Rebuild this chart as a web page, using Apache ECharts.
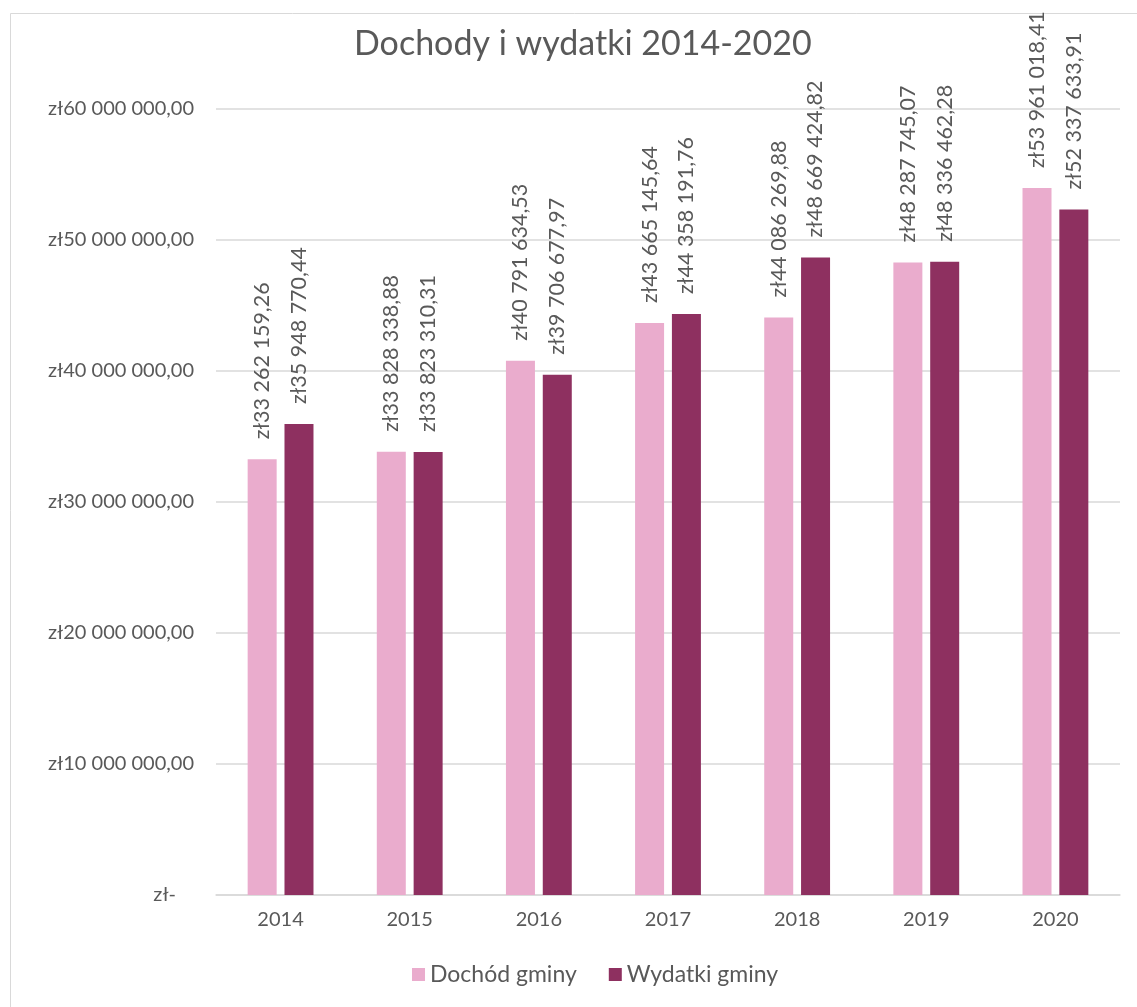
<!DOCTYPE html>
<html>
<head>
<meta charset="utf-8">
<script src="https://cdn.jsdelivr.net/npm/echarts@6/dist/echarts.min.js"></script>
<style>
  html, body { margin: 0; padding: 0; background: #fff; }
  #chart { width: 1137px; height: 1007px; }
</style>
</head>
<body>
<div id="chart"></div>
<script>
// lata i wartości
const years = ['2014', '2015', '2016', '2017', '2018', '2019', '2020'];
const dochody = [33262159.26, 33828338.88, 40791634.53, 43665145.64, 44086269.88, 48287745.07, 53961018.41];
const wydatki = [35948770.44, 33823310.31, 39706677.97, 44358191.76, 48669424.82, 48336462.28, 52337633.91];
const seriesNames = ['Dochód gminy', 'Wydatki gminy'];

const txtColor = '#595959';
const font = 'Lato, "Open Sans", sans-serif';

// format zł 12 345 678,90
function zl(v, dec) {
  if (v === 0) return 'zł-';
  let parts = v.toFixed(dec).split('.');
  let intPart = parts[0].replace(/\B(?=(\d{3})+(?!\d))/g, ' ');
  return 'zł' + intPart + ',' + parts[1];
}

const chart = echarts.init(document.getElementById('chart'));

const labelCfg = {
  show: true,
  position: 'top',
  rotate: 90,
  align: 'left',
  verticalAlign: 'middle',
  distance: 20,
  color: txtColor,
  fontFamily: font,
  fontSize: 21.5,
  formatter: p => zl(p.value, 2)
};

const option = {
  animation: false,
  backgroundColor: '#fff',
  title: {
    text: 'Dochody i wydatki 2014-2020',
    left: 349,
    top: 22,
    textStyle: { color: txtColor, fontFamily: font, fontSize: 34, fontWeight: 'normal' }
  },
  legend: {
    bottom: 16,
    left: 407,
    itemWidth: 13,
    itemHeight: 13,
    itemGap: 32,
    icon: 'rect',
    textStyle: { color: txtColor, fontFamily: font, fontSize: 23 },
    data: seriesNames
  },
  grid: { left: 216, right: 17, top: 109, bottom: 112 },
  xAxis: {
    type: 'category',
    data: years,
    axisLine: { lineStyle: { color: '#d9d9d9', width: 1.5 } },
    axisTick: { show: false },
    axisLabel: { color: txtColor, fontFamily: font, fontSize: 20, margin: 15 }
  },
  yAxis: {
    type: 'value',
    min: 0,
    max: 60000000,
    interval: 10000000,
    axisLine: { show: false },
    axisTick: { show: false },
    splitLine: { lineStyle: { color: '#d9d9d9', width: 1.5 } },
    axisLabel: {
      color: txtColor, fontFamily: font, fontSize: 20, margin: 22,
      formatter: v => v === 0 ? '{z|zł-}' : zl(v, 2),
      rich: {
        z: { color: txtColor, fontFamily: font, fontSize: 20, padding: [0, 18, 0, 0] }
      }
    }
  },
  series: [
    {
      name: seriesNames[0],
      type: 'bar',
      data: dochody,
      barWidth: 29,
      barGap: '27%',
      itemStyle: { color: '#eaaccd' },
      label: labelCfg
    },
    {
      name: seriesNames[1],
      type: 'bar',
      data: wydatki,
      barWidth: 29,
      barGap: '27%',
      itemStyle: { color: '#8e3060' },
      label: labelCfg
    }
  ],
  graphic: [{
    type: 'rect',
    shape: { x: 10.5, y: 13.5, width: 1200, height: 1100 },
    style: { fill: 'none', stroke: '#d9d9d9', lineWidth: 1 },
    silent: true
  }]
};

chart.setOption(option);
</script>
</body>
</html>
